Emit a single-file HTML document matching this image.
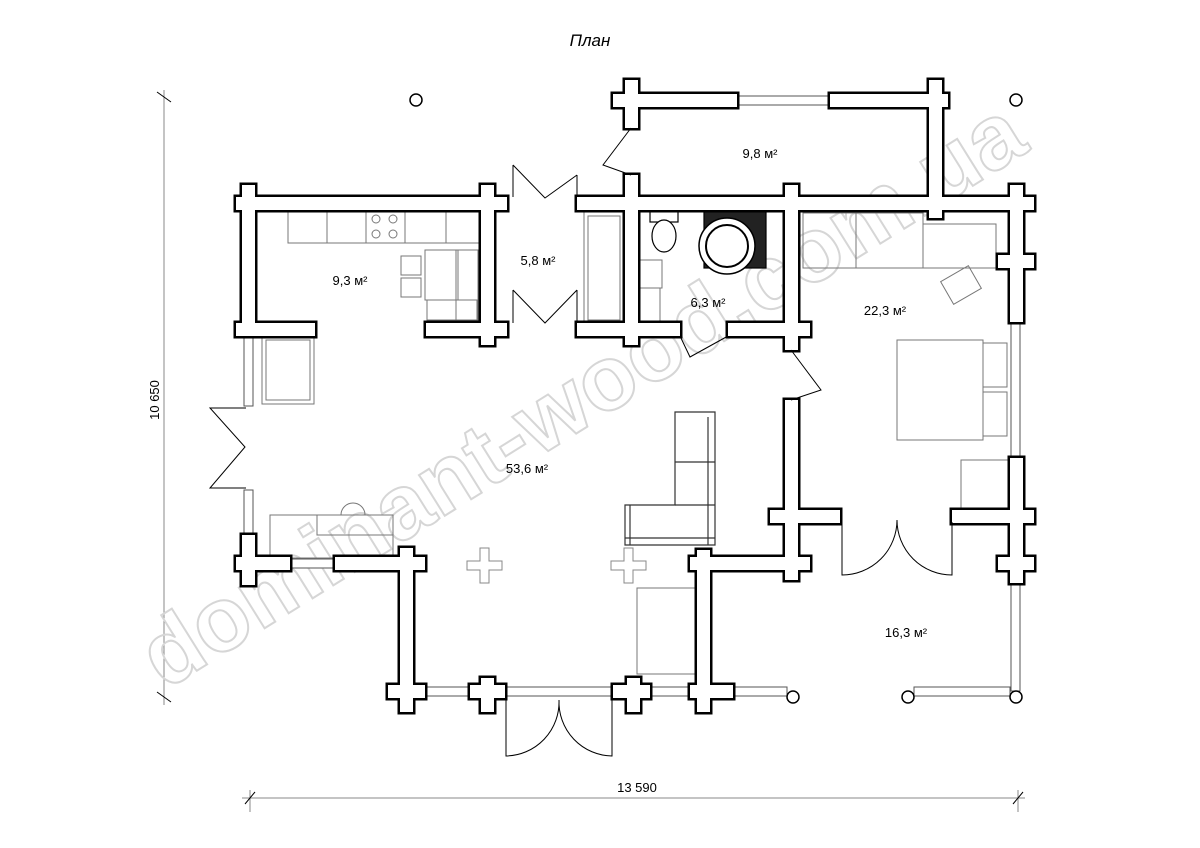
<!DOCTYPE html>
<html><head><meta charset="utf-8"><style>
html,body{margin:0;padding:0;background:#fff;width:1200px;height:848px;overflow:hidden}
svg{display:block}
text{font-family:"Liberation Sans",sans-serif}
</style></head><body>
<svg width="1200" height="848" viewBox="0 0 1200 848" xmlns="http://www.w3.org/2000/svg">
<rect width="1200" height="848" fill="#fff"/>
<text x="590" y="46" font-size="17" font-style="italic" text-anchor="middle">План</text>

<g stroke="#000" stroke-width="1" fill="none">
<line x1="164" y1="90" x2="164" y2="705" stroke="#888"/>
<line x1="157" y1="92" x2="171" y2="102"/>
<line x1="157" y1="692" x2="171" y2="702"/>
<line x1="242" y1="798" x2="1025" y2="798" stroke="#888"/>
<line x1="250" y1="790" x2="250" y2="812" stroke="#888"/><line x1="245" y1="804" x2="255" y2="792"/>
<line x1="1018" y1="790" x2="1018" y2="812" stroke="#888"/><line x1="1013" y1="804" x2="1023" y2="792"/>
</g>
<text x="0" y="0" font-size="13" text-anchor="middle" transform="translate(159,400) rotate(-90)">10 650</text>
<text x="637" y="792" font-size="13" text-anchor="middle">13 590</text>

<text x="0" y="0" font-size="91" font-weight="bold" fill="none" stroke="#d6d6d6" stroke-width="2" text-anchor="middle" transform="translate(598,420) rotate(-32)">dominant-wood.com.ua</text>

<g fill="none" stroke="#777" stroke-width="1">
<rect x="288" y="210" width="193" height="33"/>
<line x1="327" y1="210" x2="327" y2="243"/><line x1="366" y1="210" x2="366" y2="243"/><line x1="405" y1="210" x2="405" y2="243"/><line x1="446" y1="210" x2="446" y2="243"/>
<circle cx="376" cy="219" r="4"/><circle cx="393" cy="219" r="4"/><circle cx="376" cy="234" r="4"/><circle cx="393" cy="234" r="4"/>
<rect x="425" y="250" width="33" height="50"/><rect x="456" y="250" width="22" height="70"/><rect x="427" y="300" width="50" height="20"/>
<rect x="401" y="256" width="20" height="19"/><rect x="401" y="278" width="20" height="19"/>
<rect x="584" y="212" width="40" height="112"/><rect x="588" y="216" width="32" height="104"/>
<rect x="640" y="260" width="22" height="28"/><rect x="640" y="288" width="20" height="35"/>
<rect x="803" y="213" width="120" height="55"/><line x1="856" y1="213" x2="856" y2="268"/>
<rect x="923" y="224" width="73" height="44"/>
<rect x="945" y="272" width="32" height="26" transform="rotate(-30 961 285)"/>
<rect x="897" y="340" width="86" height="100"/>
<rect x="983" y="343" width="24" height="44"/><rect x="983" y="392" width="24" height="44"/>
<rect x="961" y="460" width="48" height="50"/>
<rect x="262" y="336" width="52" height="68"/><rect x="266" y="340" width="44" height="60"/>
<rect x="270" y="515" width="123" height="43"/><rect x="317" y="515" width="76" height="20"/>
<path d="M341 515 A12 12 0 0 1 365 515"/>
<rect x="637" y="588" width="65" height="86"/>
</g>
<g fill="none" stroke="#333" stroke-width="1.2">
<path d="M675 412 H715 V545 H625 V505 H675 Z"/>
<line x1="708" y1="417" x2="708" y2="545"/><line x1="625" y1="538" x2="715" y2="538"/>
<line x1="675" y1="462" x2="715" y2="462"/><line x1="675" y1="505" x2="715" y2="505"/>
<line x1="630" y1="505" x2="630" y2="545"/>
</g>
<g stroke="#000" stroke-width="1.2" fill="#fff">
<rect x="650" y="211" width="28" height="11"/>
<ellipse cx="664" cy="236" rx="12" ry="16"/>
<rect x="704" y="210" width="62" height="58" fill="#222"/>
<circle cx="727" cy="246" r="28" fill="#fff" stroke-width="1.5"/>
<circle cx="727" cy="246" r="21" fill="#fff" stroke-width="2"/>
</g>

<g fill="#fff" stroke="#555" stroke-width="1">
<rect x="737" y="96" width="93" height="9"/>
<rect x="244" y="336" width="9" height="70"/>
<rect x="244" y="490" width="9" height="46"/>
<rect x="290" y="559" width="45" height="9"/>
<rect x="425" y="687" width="45" height="9"/>
<rect x="505" y="687" width="108" height="9"/>
<rect x="650" y="687" width="40" height="9"/>
<rect x="733" y="687" width="54" height="9"/>
<rect x="914" y="687" width="96" height="9"/>
<rect x="1011" y="322" width="9" height="136"/>
<rect x="1011" y="583" width="9" height="108"/>
</g>

<g id="w">
<rect x="613" y="94" width="124" height="13"/>
<rect x="625" y="80" width="13" height="48"/>
<rect x="830" y="94" width="118" height="13"/>
<rect x="929" y="80" width="13" height="138"/>
<rect x="236" y="197" width="271" height="13"/>
<rect x="577" y="197" width="457" height="13"/>
<rect x="242" y="185" width="13" height="151"/>
<rect x="481" y="185" width="13" height="160"/>
<rect x="625" y="175" width="13" height="170"/>
<rect x="785" y="185" width="13" height="165"/>
<rect x="1010" y="185" width="13" height="137"/>
<rect x="998" y="255" width="36" height="13"/>
<rect x="236" y="323" width="79" height="13"/>
<rect x="426" y="323" width="81" height="13"/>
<rect x="577" y="323" width="103" height="13"/>
<rect x="728" y="323" width="82" height="13"/>
<rect x="785" y="400" width="13" height="180"/>
<rect x="770" y="510" width="70" height="13"/>
<rect x="690" y="557" width="120" height="13"/>
<rect x="952" y="510" width="82" height="13"/>
<rect x="1010" y="458" width="13" height="125"/>
<rect x="998" y="557" width="36" height="13"/>
<rect x="697" y="550" width="13" height="162"/>
<rect x="400" y="548" width="13" height="164"/>
<rect x="236" y="557" width="54" height="13"/>
<rect x="335" y="557" width="90" height="13"/>
<rect x="242" y="535" width="13" height="50"/>
<rect x="388" y="685" width="37" height="13"/>
<rect x="470" y="685" width="35" height="13"/>
<rect x="481" y="678" width="13" height="34"/>
<rect x="613" y="685" width="37" height="13"/>
<rect x="627" y="678" width="13" height="34"/>
<rect x="690" y="685" width="43" height="13"/>
</g>
<use href="#w" stroke="#000" stroke-width="5" fill="#000"/>
<use href="#w" fill="#fff"/>

<g fill="#fff" stroke="#000" stroke-width="1.5">
<circle cx="416" cy="100" r="6"/><circle cx="1016" cy="100" r="6"/>
<circle cx="793" cy="697" r="6"/><circle cx="908" cy="697" r="6"/><circle cx="1016" cy="697" r="6"/>
</g>
<g fill="#fff" stroke="#888" stroke-width="1">
<path d="M480 548 h9 v13 h13 v9 h-13 v13 h-9 v-13 h-13 v-9 h13 z"/>
<path d="M624 548 h9 v13 h13 v9 h-13 v13 h-9 v-13 h-13 v-9 h13 z"/>
</g>

<g fill="none" stroke="#000" stroke-width="1">
<polyline points="513,165 545,198 577,175"/>
<polyline points="513,290 545,323 577,290"/>
<line x1="513" y1="165" x2="513" y2="197"/><line x1="577" y1="175" x2="577" y2="197"/>
<line x1="513" y1="290" x2="513" y2="323"/><line x1="577" y1="290" x2="577" y2="323"/>
<polyline points="246,408 210,408 245,447 210,488 246,488"/>
<polyline points="631,128 603,165 631,175"/>
<polyline points="680,336 690,357 728,336"/>
<polyline points="791,350 821,390 791,400"/>
<path d="M842 522 V575 A55 55 0 0 0 897 520"/>
<path d="M952 522 V575 A55 55 0 0 1 897 520"/>
<path d="M506 698 V756 A54 54 0 0 0 559 700"/>
<path d="M612 698 V756 A54 54 0 0 1 559 700"/>
</g>

<g font-size="13" text-anchor="middle">
<text x="350" y="285">9,3 м²</text>
<text x="538" y="265">5,8 м²</text>
<text x="760" y="158">9,8 м²</text>
<text x="708" y="307">6,3 м²</text>
<text x="885" y="315">22,3 м²</text>
<text x="527" y="473">53,6 м²</text>
<text x="906" y="637">16,3 м²</text>
</g>
</svg>
</body></html>
